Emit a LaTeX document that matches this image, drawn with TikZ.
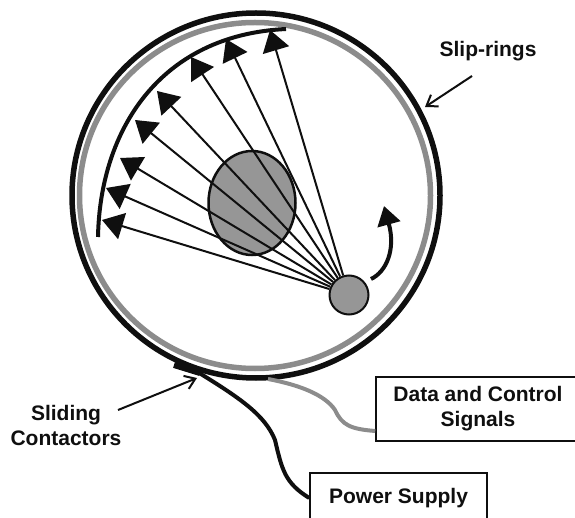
\documentclass[tikz,border=0pt]{standalone}
\usepackage{xcolor}
\usepackage{fontspec}
\setmainfont{Liberation Sans}
\usetikzlibrary{arrows.meta,shapes.geometric}
\definecolor{ringgrey}{RGB}{140, 140, 140}
\definecolor{bodygrey}{RGB}{150, 150, 150}
\definecolor{ink}{RGB}{15, 15, 15}
\tikzset{
  ray/.style={ink,line width=2pt,-{Triangle[length=21pt,width=27pt]}},
  pointer/.style={ink,line width=2pt,-{Straight Barb[length=10pt,width=14pt,line width=2pt]}},
  label/.style={font=\bfseries\fontsize{21}{25}\selectfont,align=center,text=ink},
  signalbox/.style={draw=ink,line width=1.5pt,fill=white,font=\bfseries\fontsize{21}{25}\selectfont,align=center,text=ink,inner sep=0pt}
}
\begin{document}
\begin{tikzpicture}[x=1pt,y=-1pt]
\useasboundingbox (0,0) rectangle (575,518);
% rings
\draw[ink,line width=5.5pt] (256,195.5) ellipse (184 and 182.5);
\draw[ringgrey,line width=5.5pt] (255,195.5) ellipse (175.5 and 173);
% detector arc
\draw[ink,line width=4pt] (98,237) .. controls (100,130) and (160,35) .. (286,29);
% object and source
\node[ellipse,draw=ink,line width=2.5pt,fill=bodygrey,minimum width=87pt,minimum height=104pt,inner sep=0pt] (object) at (252,203) {};
\node[circle,draw=ink,line width=2pt,fill=bodygrey,minimum size=39pt,inner sep=0pt] (source) at (349,295) {};
\foreach \tipx/\tipy [count=\i] in {102/220,106/188,120/158,135/120,157/91,191/57,226/39,270/30}{
  \coordinate (tip\i) at (\tipx,\tipy);
  \draw[ray] (source) -- (tip\i);
}
% rotation
\draw[ink,line width=4pt,-{Triangle[length=19pt,width=23pt]}] (371,279) .. controls (386,272) and (396,250) .. (384,206);
% labels
\node[label] (sliprings) at (488,51) {Slip-rings};
\coordinate (ringpoint) at (425,107);
\draw[pointer] (472,76) -- (ringpoint);
\node[label] (contactors) at (66,425) {Sliding\\Contactors};
\coordinate (contactpoint) at (197,378);
\draw[pointer] (118,410) -- (contactpoint);
% wires
\node[signalbox,minimum width=204pt,minimum height=64pt] (signals) at (478,409) {Data and Control\\Signals};
\node[signalbox,minimum width=177pt,minimum height=50pt] (power) at (398.5,498) {Power Supply};
\coordinate (greystart) at (268,379);
\coordinate (blackstart) at (174,365);
\draw[ringgrey,line width=4pt] (greystart) .. controls (300,385) and (325,395) .. (335,410) .. controls (342,425) and (350,429) .. (signals.west |- 0,431);
\draw[ink,line width=6pt] (blackstart) -- (200,373);
\draw[ink,line width=4pt] (196,371) .. controls (240,398) and (265,415) .. (275,440) .. controls (282,470) and (285,483) .. (power.west);
\end{tikzpicture}
\end{document}
